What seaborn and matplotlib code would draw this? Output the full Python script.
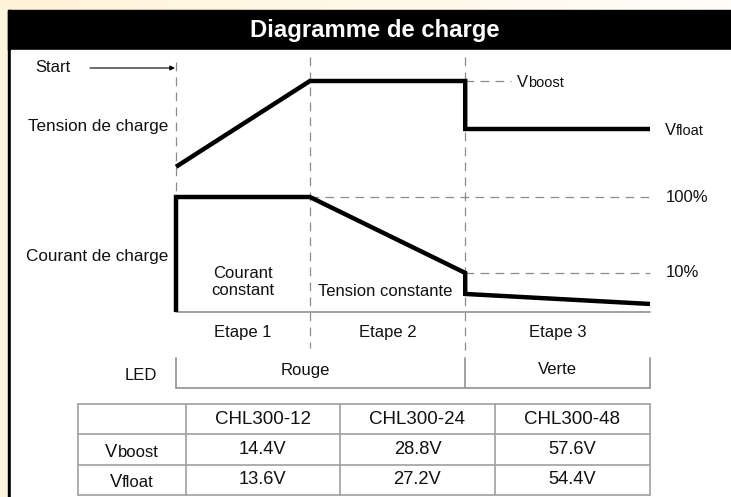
import numpy as np
import pandas as pd
import matplotlib
matplotlib.use("Agg")
import matplotlib.pyplot as plt
import seaborn as sns
from matplotlib.patches import Rectangle
from matplotlib.transforms import blended_transform_factory as blend

sns.set_theme(style="white")
plt.rcParams['font.family'] = ['Liberation Sans', 'DejaVu Sans']

# ---------------- data ----------------
title = "Diagramme de charge"
stage_bounds = [0.0, 1.0, 2.16, 3.54]            # time at start / ends of stages
stage_names = ["Etape 1", "Etape 2", "Etape 3"]
stage_modes = ["Courant\nconstant", "Tension constante"]

volt_time = [0.0, 1.0, 2.16, 2.16, 3.54]
volt_value = [12.97, 14.4, 14.4, 13.6, 13.6]      # charge voltage (12 V model)
volt_refs = [14.4, 13.6]
volt_ref_subs = ["boost", "float"]

curr_time = [0.0, 0.0, 1.0, 2.16, 2.16, 3.54]
curr_level = [0.0, 1.0, 1.0, 0.34, 0.157, 0.07]  # schematic current level
curr_refs = [1.0, 0.34]
curr_ref_labels = ["100%", "10%"]

led_label = "LED"
led_names = ["Rouge", "Verte"]

models = ["CHL300-12", "CHL300-24", "CHL300-48"]
row_subs = ["boost", "float"]
vboost = ["14.4V", "28.8V", "57.6V"]
vfloat = ["13.6V", "27.2V", "54.4V"]

# ---------------- figure / background ----------------
W, H = 731, 497
fig = plt.figure(figsize=(W / 100, H / 100), dpi=100)
fig.patch.set_facecolor("#FFF5DC")
bg = fig.add_axes([0, 0, 1, 1])
bg.set_xlim(0, W)
bg.set_ylim(H, 0)
bg.axis("off")

# top gradient strip
grad = np.linspace(0, 1, 256)
c0 = np.array([255, 244, 216]) / 255
c1 = np.array([255, 253, 249]) / 255
img = (c0[None, :] * (1 - grad[:, None]) + c1[None, :] * grad[:, None])[None, :, :]
bg.imshow(img, extent=[0, W, 10, 0], aspect="auto", zorder=0)
bg.set_xlim(0, W)
bg.set_ylim(H, 0)

bg.add_patch(Rectangle((8, 10), W - 8, 40, color="black", zorder=1))
bg.add_patch(Rectangle((8, 10), 3, H - 10, color="black", zorder=1))
bg.add_patch(Rectangle((11, 50), W - 11, H - 50, color="white", zorder=1))
bg.text(375, 31, title, color="white", fontsize=17.2, fontweight="bold",
        ha="center", va="center", zorder=3)

TXT = "#111111"
FS = 12

# ---------------- diagram axes ----------------
x0p, x1p, y0p, y1p = 176, 650, 50, 390
ax = fig.add_axes([x0p / W, (H - y1p) / H, (x1p - x0p) / W, (y1p - y0p) / H])
ax.set_xlim(stage_bounds[0], stage_bounds[-1])
ax.set_ylim((312 - 390) / 115, (312 - 50) / 115)
ax.axis("off")
ax.patch.set_alpha(0)
axv = ax.twinx()
axv.set_ylim(14.4 - (390 - 81) / 60, 14.4 + (81 - 50) / 60)
axv.axis("off")

px = blend(ax.transData, bg.transData)      # x = time, y = pixel
dash = dict(color="#8c8c8c", lw=0.9, ls=(0, (7, 5)), clip_on=False)
solid = dict(color="#9a9a9a", lw=1.3, clip_on=False)

# vertical dashed stage guides
ax.plot([stage_bounds[0]] * 2, [62, 197], transform=px, **dash)
ax.plot([stage_bounds[1]] * 2, [57, 348], transform=px, **dash)
ax.plot([stage_bounds[2]] * 2, [57, 350], transform=px, **dash)

# horizontal dashed references
ax.plot([stage_bounds[1], stage_bounds[3]], [curr_refs[0]] * 2, **dash)
ax.plot([stage_bounds[2], stage_bounds[3]], [curr_refs[1]] * 2, **dash)
axv.plot([stage_bounds[2], stage_bounds[2] + 0.345], [volt_refs[0]] * 2, **dash)

# baseline
ax.plot([stage_bounds[0], stage_bounds[3]], [0, 0], **solid)

# curves
sns.lineplot(x=volt_time, y=volt_value, ax=axv, color="black", lw=3.2,
             sort=False, estimator=None, legend=False)
sns.lineplot(x=curr_time, y=curr_level, ax=ax, color="black", lw=3.2,
             sort=False, estimator=None, legend=False)
for a in (ax, axv):
    for ln in a.get_lines():
        ln.set_clip_on(False)
        if ln.get_linewidth() > 2:
            ln.set_solid_joinstyle("miter")
            ln.set_solid_capstyle("butt")
axv.set_ylabel("")
ax.set_ylabel("")
axv.axis("off")
ax.axis("off")

# LED row box
ax.plot([stage_bounds[0], stage_bounds[3]], [388, 388], transform=px, **solid)
for sb in (stage_bounds[0], stage_bounds[2], stage_bounds[3]):
    ax.plot([sb, sb], [358, 388], transform=px, **solid)

# text in diagram
mids = [(stage_bounds[i] + stage_bounds[i + 1]) / 2 for i in range(3)]
for m, n in zip(mids, stage_names):
    ax.text(m, 333, n, transform=px, ha="center", va="center", fontsize=FS, color=TXT)
ax.text(mids[0], 282, stage_modes[0], transform=px, ha="center", va="center",
        fontsize=FS, color=TXT, linespacing=1.15)
ax.text(mids[1] - 0.02, 292, stage_modes[1], transform=px, ha="center", va="center",
        fontsize=FS, color=TXT)
ax.text(0.965, 370, led_names[0], transform=px, ha="center", va="center", fontsize=FS, color=TXT)
ax.text(mids[2], 370, led_names[1], transform=px, ha="center", va="center", fontsize=FS, color=TXT)
bg.text(157, 376, led_label, ha="right", va="center", fontsize=FS, color=TXT)

bg.text(168, 127, "Tension de charge", ha="right", va="center", fontsize=12.3, color=TXT)
bg.text(168, 257, "Courant de charge", ha="right", va="center", fontsize=12.3, color=TXT)
bg.text(35, 68, "Start", ha="left", va="center", fontsize=FS, color=TXT)
bg.annotate("", xy=(175, 68), xytext=(90, 68),
            arrowprops=dict(arrowstyle="-|>", lw=0.8, color="black",
                            mutation_scale=7, shrinkA=0, shrinkB=0))

lab_tr = blend(bg.transData, ax.transData)
for lv, lab in zip(curr_refs, curr_ref_labels):
    ax.text(666, lv, lab, transform=lab_tr, ha="left", va="center", fontsize=FS, color=TXT)

renderer = fig.canvas.get_renderer()


def v_text(x, base, sub, fs_main, fs_sub, ha="left"):
    t1 = bg.text(0, base, "V", fontsize=fs_main, va="baseline", color=TXT, zorder=3)
    t2 = bg.text(0, base, sub, fontsize=fs_sub, va="baseline", color=TXT, zorder=3)
    w1 = t1.get_window_extent(renderer).width
    w2 = t2.get_window_extent(renderer).width
    xs = x if ha == "left" else x - (w1 + w2) / 2
    t1.set_x(xs)
    t2.set_x(xs + w1)


v_text(517, 87, volt_ref_subs[0], FS, 10.5)
v_text(665, 135, volt_ref_subs[1], FS, 10.5)

# ---------------- table ----------------
tx = [78, 185.5, 340, 495, 649.5]
ty = [404, 434, 465, 495]
tcol = "#a0a0a0"
for y in ty:
    bg.plot([tx[0], tx[-1]], [y, y], color=tcol, lw=1.2, zorder=2)
for x in tx:
    bg.plot([x, x], [ty[0], ty[-1]], color=tcol, lw=1.2, zorder=2)
cx = [(tx[i] + tx[i + 1]) / 2 for i in range(4)]
cy = [(ty[i] + ty[i + 1]) / 2 for i in range(3)]
for i, m in enumerate(models):
    bg.text(cx[i + 1], cy[0], m, ha="center", va="center", fontsize=13.5, color=TXT, zorder=3)
for i, (b, f) in enumerate(zip(vboost, vfloat)):
    bg.text(cx[i + 1], cy[1], b, ha="center", va="center", fontsize=13.2, color=TXT, zorder=3)
    bg.text(cx[i + 1], cy[2], f, ha="center", va="center", fontsize=13.2, color=TXT, zorder=3)
v_text(cx[0], 457, row_subs[0], 13.2, 12, ha="center")
v_text(cx[0], 487, row_subs[1], 13.2, 12, ha="center")

fig.savefig("out.png", dpi=100, facecolor=fig.get_facecolor())
